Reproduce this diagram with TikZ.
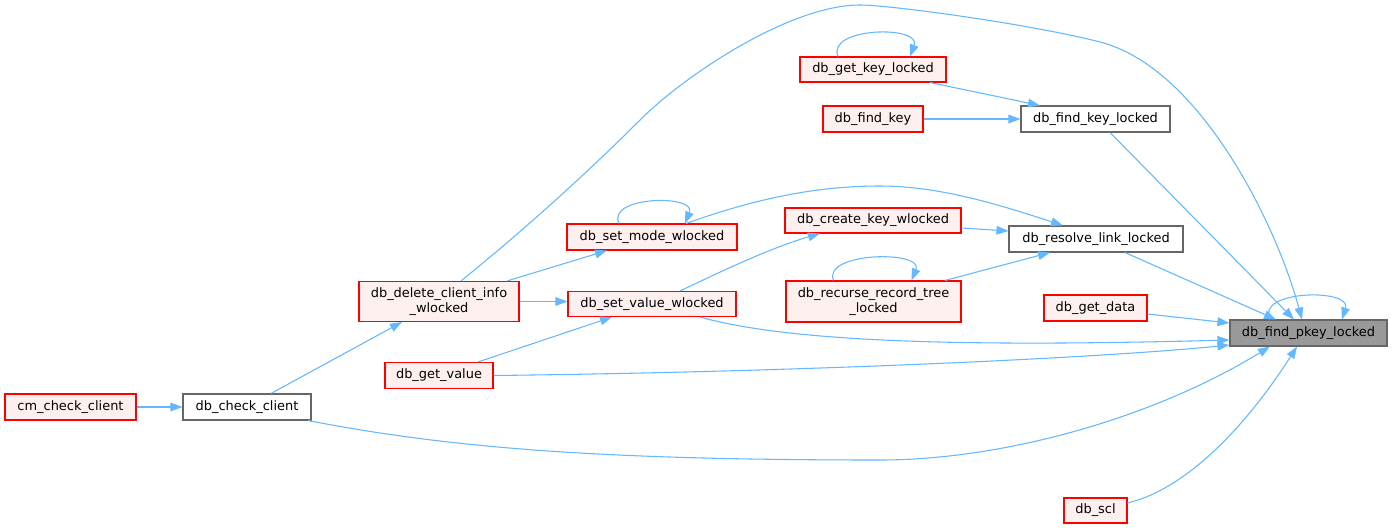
\documentclass[tikz,border=0pt]{standalone}
\usepackage{fontspec}
\setmainfont{DejaVu Sans}
\usetikzlibrary{calc,arrows.meta}
\definecolor{edgec}{HTML}{63B8FF}
\definecolor{redb}{HTML}{FF0000}
\definecolor{redf}{HTML}{FFF0F0}
\definecolor{grayb}{HTML}{666666}
\definecolor{grayf}{HTML}{999999}
\begin{document}
\begin{tikzpicture}[x=0.75pt,y=-0.75pt,
  box/.style={draw, rectangle, inner sep=0pt, minimum height=19.5pt, font=\fontsize{9.7}{10.7}\selectfont, align=center, line width=0.8pt},
  redbox/.style={box, draw=redb, fill=redf},
  plainbox/.style={box, draw=grayb, fill=white},
  mainbox/.style={box, draw=grayb, fill=grayf},
  conn/.style={draw=edgec, line width=0.8pt, -{Triangle[length=9pt,width=6.5pt]}},
]
\fill[white] (0,0) rectangle (1392,529);
\useasboundingbox (0,0) rectangle (1392,529);

\node[mainbox, minimum width=117.75pt] (pkey) at (1308.5,333) {db\_find\_pkey\_locked};
\node[redbox, minimum width=77.25pt] (gd) at (1095.5,308) {db\_get\_data};
\node[redbox, minimum width=47.25pt, minimum height=18.75pt] (scl) at (1095.5,510.5) {db\_scl};
\node[redbox, minimum width=109.5pt, minimum height=18.75pt] (gkl) at (873,69.5) {db\_get\_key\_locked};
\node[redbox, minimum width=75pt] (fk) at (873,119) {db\_find\_key};
\node[plainbox, minimum width=111.75pt] (fkl) at (1095.5,119) {db\_find\_key\_locked};
\node[redbox, minimum width=132pt, minimum height=18.75pt] (ckw) at (873,220.5) {db\_create\_key\_wlocked};
\node[plainbox, minimum width=130.5pt] (rll) at (1096,239) {db\_resolve\_link\_locked};
\node[redbox, minimum width=131.25pt, minimum height=30.75pt] (rrt) at (873.5,301.5) {db\_recurse\_record\_tree\\\_locked};
\node[redbox, minimum width=127.5pt] (smw) at (652,237) {db\_set\_mode\_wlocked};
\node[redbox, minimum width=126pt, minimum height=18.75pt] (svw) at (652,304) {db\_set\_value\_wlocked};
\node[redbox, minimum width=120pt, minimum height=30pt] (dci) at (439,301.5) {db\_delete\_client\_info\\\_wlocked};
\node[redbox, minimum width=81pt] (gv) at (439,375.5) {db\_get\_value};
\node[plainbox, minimum width=96pt] (cc) at (247,407) {db\_check\_client};
\node[redbox, minimum width=98.25pt] (cm) at (70.5,407) {cm\_check\_client};

% callers of db_find_pkey_locked
\draw[conn] ($(pkey.north)+(-38.5,0)$) .. controls (1255,290) and (1352,288) .. ($(pkey.north)+(33.5,0)$);
\draw[conn] ($(fkl.south)+(14.5,0)$) -- ($(pkey.north)+(-14.5,0)$);
\draw[conn] ($(rll.south)+(29,0)$) -- ($(pkey.north)+(-32.5,0)$);
\draw[conn] ($(gd.east)+(0,6)$) -- ($(pkey.west)+(0,-10)$);
\draw[conn] ($(svw.south)+(48,0)$) .. controls (800,345) and (1000,346) .. ($(pkey.west)+(0,7)$);
\draw[conn] (gv.east) .. controls (800,372) and (1100,358) .. ($(pkey.west)+(0,12)$);
\draw[conn] ($(cc.south)+(61,0)$) .. controls (450,448) and (600,460) .. (880,460) .. controls (1000,460) and (1150,420) .. ($(pkey.south)+(-38.5,0)$);
\draw[conn] ($(scl.east)+(0,-7.5)$) .. controls (1190,488) and (1250,420) .. ($(pkey.south)+(-11.5,0)$);
\draw[conn] ($(dci.north)+(22,0)$) .. controls (530,225) and (590,170) .. (640,120) .. controls (685,75) and (790,5) .. (860,5) .. controls (890,5) and (1030,24) .. (1100,42) .. controls (1198,67) and (1275,220) .. ($(pkey.north)+(-6.5,0)$);

% db_find_key_locked callers
\draw[conn] ($(gkl.south)+(57,0)$) -- ($(fkl.north)+(-55.5,0)$);
\draw[conn] ($(gkl.north)+(-35,0)$) .. controls (826,27) and (922,25) .. ($(gkl.north)+(37,0)$);
\draw[conn] (fk.east) -- (fkl.west);

% db_resolve_link_locked callers
\draw[conn] ($(ckw.east)+(0,7.5)$) -- ($(rll.west)+(0,-8)$);
\draw[conn] ($(rrt.north)+(71.5,0)$) -- ($(rll.south)+(-46,0)$);
\draw[conn] ($(rrt.north)+(-40,0)$) .. controls (822,252) and (924,250) .. ($(rrt.north)+(38,0)$);
\draw[conn] ($(smw.north)+(34,0)$) .. controls (760,197) and (820,186) .. (880,186) .. controls (940,186) and (1000,205) .. ($(rll.north)+(-33,0)$);
\draw[conn] ($(smw.north)+(-33,0)$) .. controls (606,196) and (697,194) .. ($(smw.north)+(33,0)$);

% others
\draw[conn] ($(svw.north)+(28,0)$) .. controls (720,272) and (770,248) .. ($(ckw.south)+(-53,0)$);
\draw[conn] ($(dci.north)+(68,0)$) -- ($(smw.south)+(-45,0)$);
\draw[conn] (dci.east) -- (dci.east -| svw.west);
\draw[conn] ($(gv.north)+(39,0)$) -- ($(svw.south)+(-40,0)$);
\draw[conn] ($(cc.north)+(24,0)$) -- ($(dci.south)+(-37,0)$);
\draw[conn] (cm.east) -- (cc.west);
\end{tikzpicture}
\end{document}
